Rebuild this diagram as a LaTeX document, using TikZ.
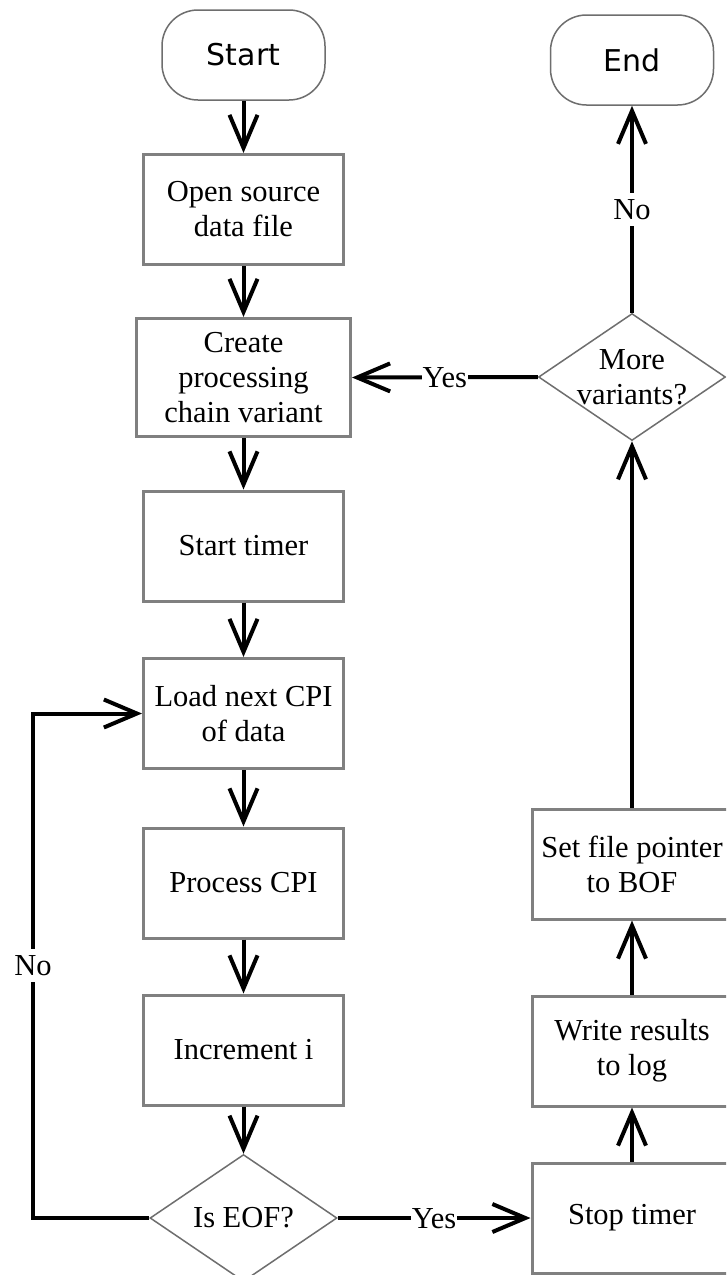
\documentclass[tikz,border=0pt]{standalone}
\usepackage{fontspec}
\setmainfont{Liberation Serif}
\newfontfamily\termfont{DejaVu Sans}
\usetikzlibrary{arrows.meta,shapes.geometric}

\definecolor{boxgray}{HTML}{808080}
\definecolor{shapegray}{HTML}{6E6E6E}

\tikzset{
  boxtext/.style={font=\fontsize{30.5}{35}\selectfont, align=center},
  stepbox/.style={boxtext, draw=boxgray, line width=3pt, inner sep=0pt,
    minimum width=200pt, minimum height=110pt},
  terminal/.style={draw=shapegray, line width=1.5pt, rounded corners=36pt,
    minimum width=163pt, minimum height=90pt, inner sep=0pt,
    font=\termfont\fontsize{30}{36}\selectfont},
  decision/.style={diamond, draw=shapegray, line width=1.5pt, inner sep=0pt,
    minimum width=187pt, minimum height=127pt},
  flow/.style={line width=4pt, line join=miter,
    -{Straight Barb[length=33pt, width=28pt, line width=4pt]}},
  lbl/.style={boxtext, fill=white, inner xsep=0.5pt, inner ysep=0.5pt,
    text height=26pt, text depth=6pt},
}

\begin{document}
\begin{tikzpicture}[x=1pt, y=-1pt]
\useasboundingbox (0,0) rectangle (726,1275);
\clip (0,0) rectangle (726,1275);
\fill[white] (0,0) rectangle (726,1275);

% main column
\node[terminal] (start) at (243.5,55) {Start};
\node[stepbox] (open) at (243.5,209.5) {Open source\\data file};
\node[stepbox, minimum width=214pt, minimum height=118pt] (create) at (243.5,377.5)
  {Create\\processing\\chain variant};
\node[stepbox] (timer) at (243.5,546) {Start timer};
\node[stepbox] (load) at (243.5,713.5) {Load next CPI\\of data};
\node[stepbox] (proc) at (243.5,883) {Process CPI};
\node[stepbox] (inc) at (243.5,1050) {Increment i};
\node[decision] (eof) at (243.5,1218) {};
\node[boxtext] (eoft) at (eof) {Is EOF?};

% return column
\node[stepbox] (stop) at (632,1218) {Stop timer};
\node[stepbox] (write) at (632,1051) {Write results\\to log};
\node[stepbox] (setfp) at (632,864) {Set file pointer\\to BOF};
\node[decision] (more) at (632,377) {};
\node[boxtext] (moret) at (more) {More\\variants?};
\node[terminal] (endn) at (632,60) {End};

\coordinate (loopc) at (33,1218);

% connectors
\draw[flow] (start) -- (open);
\draw[flow] (open) -- (create);
\draw[flow] (create) -- (timer);
\draw[flow] (timer) -- (load);
\draw[flow] (load) -- (proc);
\draw[flow] (proc) -- (inc);
\draw[flow] (inc) -- (eof);
\draw[flow] (eof.east) -- node[lbl] {Yes} (stop.west);
\draw[flow] (stop) -- (write);
\draw[flow] (write) -- (setfp);
\draw[flow] (setfp) -- (more.south);
\draw[flow] (more.north) -- node[lbl] {No} (endn);
\draw[flow] (more.west) -- node[lbl] {Yes} (create.east);
\draw[flow] (eof.west) -- (loopc) -- node[lbl] {No} (loopc |- load.west) -- (load.west);
\end{tikzpicture}
\end{document}
